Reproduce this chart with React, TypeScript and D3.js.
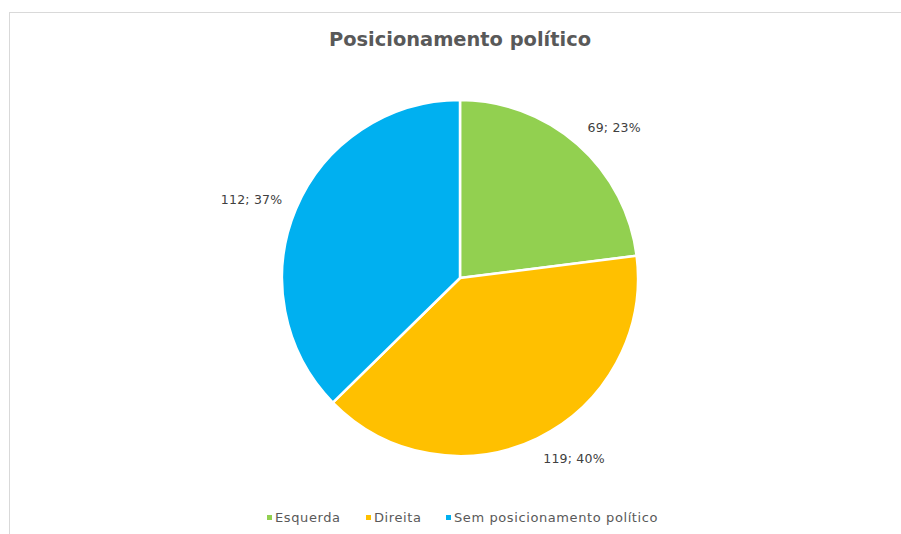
import React, { useEffect } from "react";
import * as d3 from "d3";

const categories = ["Esquerda", "Direita", "Sem posicionamento político"];
const values = [69, 119, 112];
const colors = ["#92D050", "#FFC000", "#00B0F0"];
const title = "Posicionamento político";

const W = 901;
const H = 534;
const FONT = "'DejaVu Sans', sans-serif";

export default function App() {
  useEffect(() => {
    document.body.style.margin = "0";
  }, []);

  const cx = 460;
  const cy = 278;
  const r = 178;
  const total = d3.sum(values);
  const pie = d3.pie<number>().sort(null).value((d) => d);
  const arcs = pie(values);
  const arc = d3.arc<d3.PieArcDatum<number>>().innerRadius(0).outerRadius(r);

  const labelPos = (a: d3.PieArcDatum<number>, text: string) => {
    const mid = (a.startAngle + a.endAngle) / 2;
    const lr = r + 16;
    const px = Math.sin(mid) * lr;
    const py = -Math.cos(mid) * lr;
    const halfW = text.length * 3.7;
    const halfH = 7;
    const x = px + Math.sign(Math.sin(mid)) * halfW;
    const y = py + -Math.cos(mid) * halfH;
    return [x, y];
  };

  const legendX = d3.scaleOrdinal<string, number>().domain(categories).range([267, 366, 446]);

  return (
    <svg width={W} height={H} style={{ display: "block", background: "#fff" }}>
      <rect x={9.5} y={12.5} width={W + 10} height={H + 10} fill="#fff" stroke="#d9d9d9" strokeWidth={1} />
      <text x={cx} y={46} textAnchor="middle" fontFamily={FONT} fontWeight="bold" fontSize={20} fill="#595959"
        textLength={262} lengthAdjust="spacingAndGlyphs">
        {title}
      </text>
      <g transform={`translate(${cx},${cy})`}>
        {arcs.map((a, i) => (
          <path key={i} d={arc(a) || ""} fill={colors[i]} stroke="#fff" strokeWidth={2.5} strokeLinejoin="round" />
        ))}
        {arcs.map((a, i) => {
          const pct = Math.round((values[i] / total) * 100);
          const t = `${values[i]}; ${pct}%`;
          const [x, y] = labelPos(a, t);
          return (
            <text key={i} x={x} y={y} dy="0.35em" textAnchor="middle" fontFamily={FONT} fontSize={12.5}
              letterSpacing={0.2} fill="#404040">
              {t}
            </text>
          );
        })}
      </g>
      <g>
        {categories.map((c, i) => (
          <g key={c} transform={`translate(${legendX(c)},517.5)`}>
            <rect x={0} y={-2.5} width={5} height={5} fill={colors[i]} />
            <text x={8} y={0} dy="0.35em" fontFamily={FONT} fontSize={13} letterSpacing={0.6} fill="#595959">
              {c}
            </text>
          </g>
        ))}
      </g>
    </svg>
  );
}
